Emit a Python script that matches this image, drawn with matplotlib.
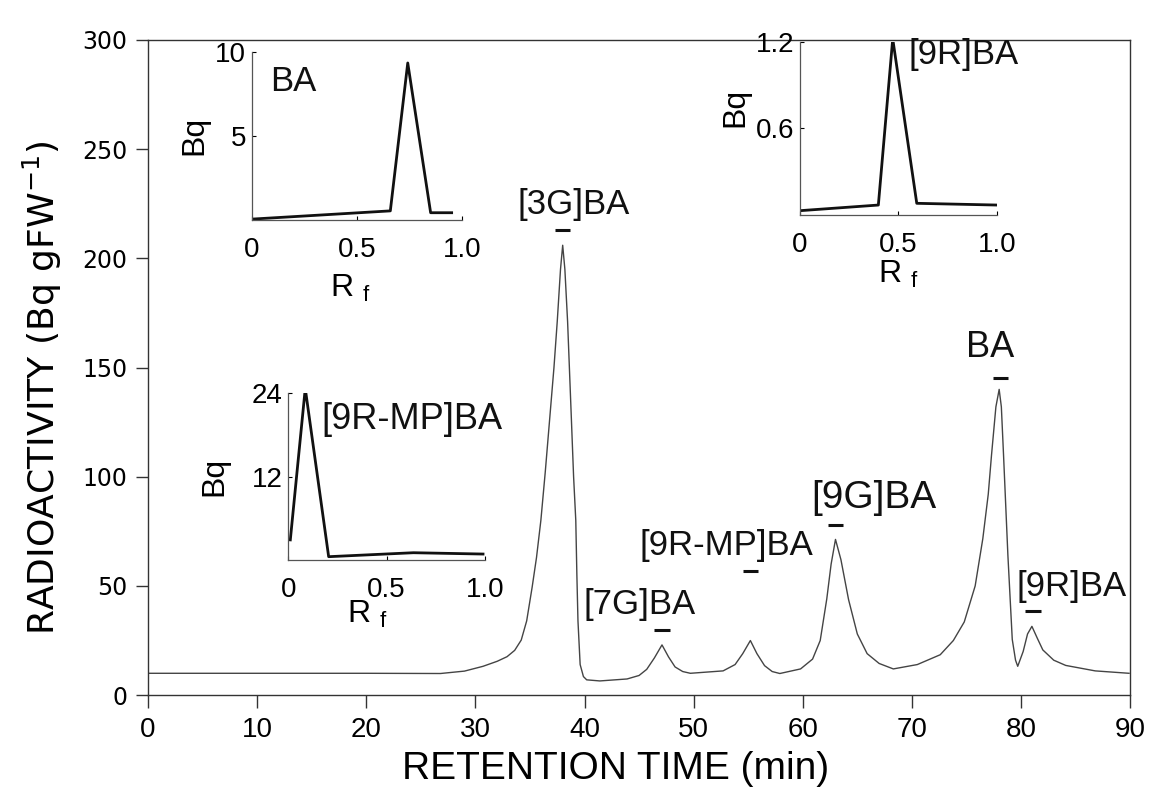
import matplotlib.pyplot as plt

plt.rcParams['font.family'] = ['Liberation Sans', 'DejaVu Sans']
plt.rcParams['mathtext.fontset'] = 'custom'
plt.rcParams['mathtext.rm'] = 'Liberation Sans'

# main chromatogram (min, Bq/gFW)
time = [0, 10, 20, 26.8, 29.0, 30.7, 32.0, 32.9, 33.6, 34.2, 34.7, 35.2,
        35.6, 36.0, 36.4, 36.8, 37.2, 37.5, 37.8, 38.0, 38.2, 38.45, 38.8,
        39.0, 39.2, 39.3, 39.4, 39.6, 39.9, 40.2, 41.4, 43.9, 45.0, 45.7,
        46.4, 47.1, 47.7, 48.3, 49.0, 49.7, 52.7, 53.8, 54.5, 55.2, 55.8,
        56.5, 57.2, 57.9, 59.8, 60.9, 61.6, 62.2, 62.6, 63.0, 63.5, 64.2,
        65.0, 65.9, 67.0, 68.3, 70.5, 72.6, 73.8, 74.8, 75.8, 76.5, 77.0,
        77.3, 77.7, 78.0, 78.2, 78.4, 78.8, 79.2, 79.5, 79.7, 80.2, 80.6,
        81.0, 81.5, 82.0, 83.0, 84.1, 86.8, 89.9]
activity = [10, 10, 10, 9.9, 11, 13.2, 15.5, 17.6, 20.5, 25.2, 34, 49.4,
            63, 80, 102, 126, 150, 171, 195, 206, 195, 171, 126,
            100, 80, 55, 34, 14, 8.5, 7, 6.5, 7.4, 9, 11.8,
            17, 23, 17.5, 12.9, 10.8, 10, 11.1, 14, 19, 25, 19,
            13.5, 10.8, 9.9, 12, 16.5, 25, 44, 60, 71.3, 62, 43.7,
            28, 19, 14.5, 12, 14, 18.5, 25, 33.5, 50, 71.6, 92,
            110, 132, 140, 132, 110, 64, 25.5, 16, 13.2, 20, 28,
            31.5, 26, 20.7, 16, 13.6, 11.1, 10]

# peak labels: text, text x, text bottom y, bar x, bar y, size
peak_names = ['[3G]BA', '[7G]BA', '[9R-MP]BA', '[9G]BA', 'BA', '[9R]BA']
text_x = [39.0, 45.0, 53.0, 66.5, 77.2, 84.6]
text_y = [217, 34, 61, 82, 151, 42]
bar_x = [38.0, 47.1, 55.2, 63.0, 78.1, 81.1]
bar_y = [213, 30, 57, 77.7, 145, 38.3]
name_size = [25, 25, 25, 28, 26, 25]

# TLC insets (Rf, Bq)
ba_rf = [0, 0.66, 0.743, 0.852, 0.952]
ba_bq = [0.05, 0.54, 9.33, 0.43, 0.43]
r9_rf = [0, 0.398, 0.471, 0.593, 1.0]
r9_bq = [0.03, 0.069, 1.22, 0.081, 0.069]
mp_rf = [0.01, 0.086, 0.205, 0.636, 0.99]
mp_bq = [2.9, 24.7, 0.48, 1.05, 0.86]

fig = plt.figure(figsize=(11.52, 7.99), dpi=100)
ax = fig.add_axes([0.1285, 0.130, 0.8525, 0.820])
ax.plot(time, activity, color='#444444', lw=1.0)
ax.set_xlim(0, 90)
ax.set_ylim(0, 300)
ax.set_xticks(range(0, 91, 10))
ax.set_yticks(range(0, 301, 50))
for s in ax.spines.values():
    s.set_linewidth(1.0)
    s.set_color('#333333')
ax.tick_params(direction='out', length=9, width=1.0, color='#333333')
ax.tick_params(axis='y', labelsize=17, pad=6)
ax.tick_params(axis='x', labelsize=20, pad=7)
for t in ax.get_yticklabels():
    t.set_family('DejaVu Sans')
ax.set_xlabel('RETENTION TIME (min)', fontsize=28)
ax.xaxis.set_label_coords(0.476, -0.085)
ax.set_ylabel('RADIOACTIVITY (Bq gFW$^{\\mathregular{-1}}$)', fontsize=26,
              family='DejaVu Sans')
ax.yaxis.set_label_coords(-0.086, 0.47)

for i in range(len(peak_names)):
    ax.text(text_x[i], text_y[i], peak_names[i], fontsize=name_size[i],
            ha='center', va='bottom', color='#111111')
    ax.plot([bar_x[i] - 0.7, bar_x[i] + 0.7], [bar_y[i], bar_y[i]],
            color='#111111', lw=2.2, solid_capstyle='butt')


def inset(rect, rf, bq, ymax, yticks, ylabels, name, name_xy, xl_xy, yl_xy):
    a = fig.add_axes(rect)
    a.plot(rf, bq, color='#111111', lw=2.0)
    a.set_xlim(0, 1.0)
    a.set_ylim(0, ymax)
    a.spines['top'].set_visible(False)
    a.spines['right'].set_visible(False)
    for s in ['left', 'bottom']:
        a.spines[s].set_linewidth(0.9)
        a.spines[s].set_color('#555555')
    a.set_xticks([0, 0.5, 1.0])
    a.set_xticklabels(['0', '0.5', '1.0'])
    a.set_yticks(yticks)
    a.set_yticklabels(ylabels)
    a.tick_params(direction='in', length=3, width=0.8, labelsize=20)
    a.tick_params(axis='x', pad=12)
    a.tick_params(axis='y', pad=4)
    a.set_xlabel('R $_{\\mathregular{f}}$', fontsize=23)
    a.xaxis.set_label_coords(*xl_xy)
    a.set_ylabel('Bq', fontsize=23)
    a.yaxis.set_label_coords(*yl_xy)
    a.text(name_xy[0], name_xy[1], name, fontsize=name_xy[2],
           transform=a.transAxes, ha='left', va='top', color='#111111')
    a.patch.set_alpha(0)
    return a


inset([0.2185, 0.7247, 0.1823, 0.2106], ba_rf, ba_bq, 10, [5, 10],
      ['5', '10'], 'BA', (0.09, 0.92, 25), (0.47, -0.31), (-0.2, 0.5))
inset([0.6944, 0.7309, 0.1710, 0.2169], r9_rf, r9_bq, 1.2, [0.6, 1.2],
      ['0.6', '1.2'], '[9R]BA', (0.55, 1.02, 25), (0.5, -0.25),
      (-0.25, 0.62))
inset([0.2503, 0.2991, 0.1707, 0.2086], mp_rf, mp_bq, 24, [12, 24],
      ['12', '24'], '[9R-MP]BA', (0.17, 0.95, 26), (0.4, -0.23),
      (-0.3, 0.5))

fig.savefig('out.png', dpi=100)
